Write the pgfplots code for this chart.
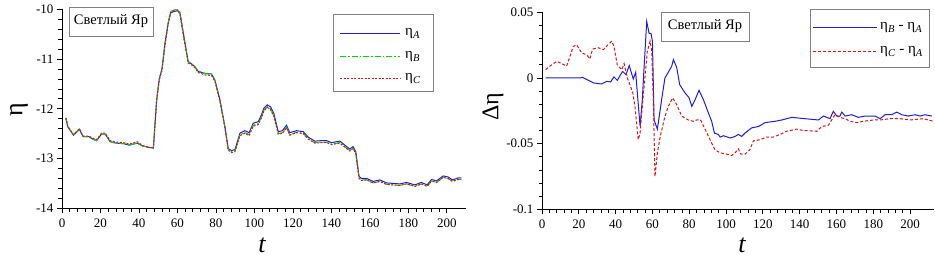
\documentclass[border=0pt]{standalone}
\usepackage{pgfplots}
\pgfplotsset{compat=1.18}
\usepackage{fontspec}
\setmainfont{Liberation Serif}
\definecolor{cA}{RGB}{30,30,210}
\definecolor{cB}{RGB}{0,215,0}
\definecolor{cC}{RGB}{215,20,20}
\pgfplotstableread{
t A B C
2 -12.19 -12.19 -12.18
3 -12.36 -12.36 -12.35
6 -12.53 -12.53 -12.52
9 -12.41 -12.41 -12.40
11 -12.56 -12.56 -12.55
14 -12.56 -12.56 -12.55
16 -12.61 -12.61 -12.59
18 -12.64 -12.64 -12.62
20.5 -12.51 -12.51 -12.49
22.5 -12.51 -12.51 -12.49
25 -12.66 -12.66 -12.64
28 -12.69 -12.69 -12.67
32 -12.70 -12.70 -12.68
35 -12.73 -12.73 -12.71
39 -12.69 -12.69 -12.66
42 -12.75 -12.75 -12.74
46 -12.78 -12.78 -12.78
47.5 -12.79 -12.78 -12.79
49.2 -11.82 -11.82 -11.83
50.6 -11.39 -11.39 -11.41
52 -11.19 -11.20 -11.23
53.5 -10.68 -10.72 -10.73
55.2 -10.28 -10.28 -10.28
56.5 -10.07 -10.04 -10.06
58.7 -10.04 -10.01 -10.02
60 -10.03 -10.00 -10.01
61.3 -10.06 -10.09 -10.10
63.4 -10.55 -10.58 -10.60
65.6 -11.05 -11.06 -11.08
67.4 -11.10 -11.10 -11.12
69 -11.15 -11.15 -11.17
70.8 -11.25 -11.24 -11.27
74.3 -11.29 -11.29 -11.32
77.7 -11.30 -11.31 -11.33
79.5 -11.42 -11.43 -11.45
82.1 -11.82 -11.84 -11.85
84.7 -12.36 -12.37 -12.39
86.4 -12.80 -12.81 -12.83
88.1 -12.84 -12.86 -12.88
89.9 -12.82 -12.85 -12.86
92.5 -12.49 -12.52 -12.54
95.1 -12.44 -12.48 -12.49
97.3 -12.48 -12.52 -12.54
99.4 -12.29 -12.33 -12.35
102 -12.26 -12.30 -12.32
103.7 -12.12 -12.16 -12.18
104.9 -11.99 -12.03 -12.05
106.7 -11.92 -11.96 -11.97
108.4 -11.96 -12.00 -12.02
110.1 -12.09 -12.13 -12.15
112.4 -12.46 -12.50 -12.51
114.6 -12.44 -12.48 -12.49
116.7 -12.33 -12.37 -12.38
118.4 -12.48 -12.52 -12.53
121.9 -12.44 -12.47 -12.48
125.4 -12.46 -12.49 -12.50
128 -12.57 -12.60 -12.61
131.4 -12.65 -12.68 -12.69
134.9 -12.64 -12.67 -12.68
137.5 -12.64 -12.67 -12.68
140.1 -12.68 -12.71 -12.72
144.4 -12.65 -12.68 -12.69
147 -12.73 -12.76 -12.77
149.6 -12.81 -12.84 -12.85
151.3 -12.76 -12.79 -12.80
152.7 -12.86 -12.89 -12.90
154.4 -13.36 -13.39 -13.40
155.7 -13.40 -13.43 -13.44
158.3 -13.40 -13.43 -13.43
161.7 -13.46 -13.49 -13.49
165.2 -13.43 -13.46 -13.46
168.7 -13.49 -13.52 -13.52
172.1 -13.50 -13.53 -13.53
175.6 -13.51 -13.54 -13.54
179.1 -13.48 -13.51 -13.51
183.4 -13.53 -13.56 -13.56
186.8 -13.48 -13.51 -13.51
189.8 -13.53 -13.56 -13.56
192.1 -13.42 -13.45 -13.45
194.7 -13.45 -13.48 -13.48
198.1 -13.35 -13.38 -13.38
200.7 -13.37 -13.40 -13.40
203 -13.43 -13.46 -13.46
205.9 -13.39 -13.42 -13.42
207.6 -13.39 -13.42 -13.42
}\etatab
\pgfplotstableread{
t d
2 0
21 0
22 0.0005
28 -0.0038
32.4 -0.0046
35.1 -0.0026
37.3 -0.003
39.1 0.0008
40.9 -0.0018
43.8 0.005
45.6 0.0025
47.4 0.0094
49.6 -0.0008
50.9 0.0043
51.8 -0.0114
53.3 -0.0368
54.5 -0.0165
55.4 0.0063
56.9 0.043
58.2 0.034
59.2 0.034
60 0.028
60.9 -0.032
62.7 -0.039
65 -0.0165
66.8 0
68.5 0.004
70.5 0.009
71.4 0.014
73.2 0.008
74.8 -0.005
77.7 -0.0114
79.9 -0.015
81.4 -0.0216
83.2 -0.0165
85.3 -0.0094
87.7 -0.0165
90.4 -0.0266
92.2 -0.033
93.7 -0.042
95.8 -0.043
96.8 -0.045
98.6 -0.044
102.2 -0.0457
104.9 -0.0445
106.7 -0.043
108.5 -0.0445
110.3 -0.042
113.9 -0.038
117.6 -0.037
121.2 -0.034
126.6 -0.033
130.3 -0.032
135.7 -0.030
142.9 -0.031
150.2 -0.032
152.9 -0.029
156.5 -0.031
158.3 -0.0254
160.2 -0.029
161.9 -0.029
162.9 -0.026
164.7 -0.029
168.3 -0.028
171.9 -0.030
175.5 -0.029
181 -0.029
183.7 -0.031
186.4 -0.028
190 -0.028
192.8 -0.026
195.5 -0.028
199 -0.029
202.7 -0.028
205.4 -0.029
208 -0.028
211.8 -0.029
}\dBtab
\pgfplotstableread{
t d
2 0.0063
4.3 0.009
8 0.0126
10.7 0.011
13.4 0.009
17 0.024
18.8 0.0253
21.6 0.019
24.3 0.0177
26 0.0145
27.5 0.022
30.6 0.023
33.3 0.0215
36 0.0255
37.9 0.028
39.1 0.024
40.9 0.010
43.3 0.0063
44.6 0.011
46.4 0
49.3 -0.011
50.5 -0.0216
52.3 -0.047
53.3 -0.042
54.2 -0.0266
56 0.0013
57.2 0.020
58.7 0.028
59.6 0.0215
60.5 -0.0165
61.4 -0.075
62.7 -0.057
64.1 -0.0457
66.3 -0.032
68.6 -0.0216
71 -0.0152
73.2 -0.0203
75.9 -0.029
79.5 -0.032
82.2 -0.033
84.1 -0.032
86.2 -0.032
88.6 -0.039
91.3 -0.047
94 -0.0546
96.7 -0.057
100.4 -0.058
103.1 -0.059
104.9 -0.057
106.7 -0.054
108 -0.058
110.3 -0.058
113 -0.0546
114.8 -0.048
118.5 -0.047
122.1 -0.045
125.7 -0.045
129.3 -0.043
132.9 -0.0406
138.4 -0.039
142 -0.040
149.3 -0.0406
152 -0.037
155.6 -0.036
157.4 -0.032
159.2 -0.028
162 -0.030
164.7 -0.031
167.4 -0.033
171 -0.034
174.6 -0.033
180 -0.032
183.7 -0.032
189.1 -0.031
194.6 -0.031
200 -0.032
207.2 -0.031
212.7 -0.033
}\dCtab
\pgfplotsset{
  myax/.style={
    scale only axis,
    axis x line*=bottom, axis y line*=left,
    axis line style={-, black, line width=0.8pt},
    tick align=outside,
    major tick length=5pt, minor tick length=3.5pt,
    every tick/.style={black, line width=0.7pt},
    tick label style={font=\fontsize{13}{13}\selectfont},
    /pgf/number format/assume math mode=true,
    xtick={0,20,...,200}, minor x tick num=4, minor y tick num=4,
    xticklabel style={yshift=-2pt},
  },
}
\tikzset{
  sA/.style={draw=cA, line width=1pt},
  sB/.style={draw=cB, line width=1pt, dash pattern=on 6pt off 2pt on 1.5pt off 2pt},
  sC/.style={draw=cC, line width=1pt, dash pattern=on 2pt off 1.5pt},
  sD/.style={draw=cC, line width=1pt, dash pattern=on 3pt off 2pt},
  lgtext/.style={anchor=west, inner sep=0pt, text=black, font=\fontsize{15}{15}\selectfont},
}
\begin{document}
\begin{tikzpicture}
\path[use as bounding box] (0,0) rectangle (935pt,261pt);
\begin{axis}[myax, at={(62pt,52.7pt)}, anchor=south west,
  width=404pt, height=199pt, xmin=0, xmax=210, ymin=-14, ymax=-10,
  ytick={-14,-13,-12,-11,-10}]
\addplot[sA] table[x=t, y=A] {\etatab};
\addplot[sB] table[x=t, y=B] {\etatab};
\addplot[sC] table[x=t, y=C] {\etatab};
\end{axis}
\begin{axis}[myax, at={(542pt,51.7pt)}, anchor=south west,
  width=392pt, height=197pt, xmin=0, xmax=213, ymin=-0.1, ymax=0.05,
  ytick={-0.1,-0.05,0,0.05}, yticklabel style={/pgf/number format/fixed}]
\addplot[sA] table[x=t, y=d] {\dBtab};
\addplot[sD] table[x=t, y=d] {\dCtab};
\end{axis}
% legend sample lines
\begin{scope}
\draw[sA, line width=1.2pt] (340pt,227.5pt) -- (400pt,227.5pt);
\end{scope}
\begin{scope}
\draw[sB, line width=1.2pt] (340pt,204.5pt) -- (400pt,204.5pt);
\end{scope}
\begin{scope}
\draw[sC, line width=1.2pt] (340pt,182.5pt) -- (400pt,182.5pt);
\end{scope}
\begin{scope}
\draw[sA, line width=1.2pt] (813pt,233.5pt) -- (877pt,233.5pt);
\end{scope}
\begin{scope}
\draw[sD, line width=1.2pt] (813pt,209.5pt) -- (877pt,209.5pt);
\end{scope}
% legend frames and texts
\draw[gray, line width=0.5pt] (333.5pt,169.5pt) rectangle (433.5pt,246.5pt);
\draw[gray, line width=0.5pt] (810.5pt,193.5pt) rectangle (929.5pt,251.5pt);
\node[lgtext] at (405pt,227pt) {η\textsubscript{\textit{A}}};
\node[lgtext] at (405pt,204pt) {η\textsubscript{\textit{B}}};
\node[lgtext] at (405pt,182pt) {η\textsubscript{\textit{C}}};
\node[lgtext] at (880pt,233pt) {η\textsubscript{\textit{B}} - η\textsubscript{\textit{A}}};
\node[lgtext] at (880pt,209pt) {η\textsubscript{\textit{C}} - η\textsubscript{\textit{A}}};
% place boxes
\node[draw=gray, line width=0.5pt, minimum width=84pt, minimum height=29pt, inner sep=0pt,
  font=\fontsize{14.5}{14.5}\selectfont] at (111pt,239.5pt) {Светлый Яр};
\node[draw=gray, line width=0.5pt, minimum width=88pt, minimum height=29pt, inner sep=0pt,
  font=\fontsize{14.5}{14.5}\selectfont] at (705pt,234.5pt) {Светлый Яр};
% axis labels
\node[rotate=90, font=\fontsize{26}{26}\selectfont] at (19pt,151pt) {η};
\node[rotate=90, font=\fontsize{24}{24}\selectfont] at (493pt,154pt) {Δη};
\node[font=\fontsize{26}{26}\selectfont\itshape] at (262pt,16pt) {t};
\node[font=\fontsize{26}{26}\selectfont\itshape] at (742pt,16pt) {t};
\end{tikzpicture}
\end{document}
